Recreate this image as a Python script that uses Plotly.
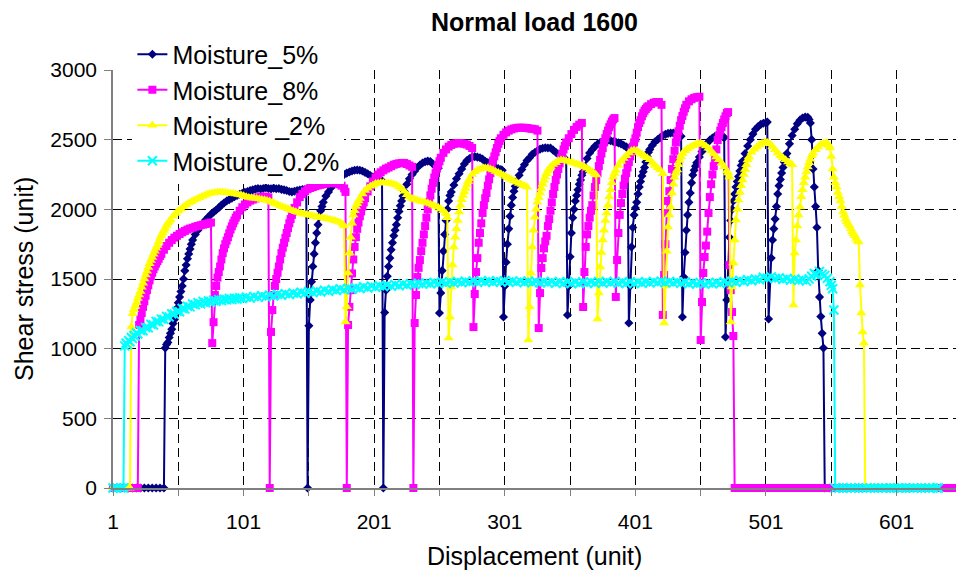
import plotly.graph_objects as go

# ---------------- data (category index, shear stress) ----------------
tick_positions = [1, 51, 101, 151, 201, 251, 301, 351, 401, 451, 501, 551, 601]
tick_labels = ["1", "", "101", "", "201", "", "301", "", "401", "", "501", "", "601"]
y_ticks = [0, 500, 1000, 1500, 2000, 2500, 3000]

moisture_5 = [
    (1, 0), (4, 0), (7, 0), (10, 0), (13, 0), (16, 0), (19, 0), (22, 0), (25, 0), (28, 0), (31, 0), (34, 0), (37, 0), (40, 0),
    (41, 1005), (42, 1030), (43, 1045), (44, 1080), (45, 1110), (46, 1140), (47, 1180), (48, 1210), (49, 1250), (50, 1290),
    (51, 1330), (52, 1370), (53, 1410), (54, 1450), (55, 1500), (56, 1560), (57, 1600), (58, 1645), (59, 1680), (60, 1715),
    (61, 1750), (62, 1780), (64, 1820), (66, 1850), (68, 1875), (70, 1900), (72, 1925), (74, 1945), (76, 1965), (78, 1980),
    (80, 1995), (82, 2012), (84, 2030), (86, 2045), (88, 2060), (90, 2070), (92, 2080), (94, 2090), (96, 2100), (98, 2108),
    (100, 2115), (102, 2122), (104, 2128), (106, 2135), (108, 2140), (110, 2145), (112, 2150), (114, 2146), (116, 2150),
    (118, 2155), (120, 2150), (122, 2147), (124, 2152), (126, 2148), (128, 2150), (130, 2143), (132, 2140), (134, 2135),
    (136, 2128), (138, 2125), (140, 2130), (142, 2135), (144, 2138), (146, 2142), (148, 2140), (149, 2135),
    (150, 0),
    (151, 1165), (152, 1350), (153, 1480), (154, 1590), (155, 1680), (156, 1760), (157, 1830), (158, 1890), (159, 1945),
    (160, 1990), (161, 2020), (162, 2050), (164, 2095), (166, 2125), (168, 2155), (170, 2185), (172, 2205), (174, 2222),
    (176, 2238), (178, 2250), (180, 2260), (182, 2268), (184, 2275), (186, 2280), (188, 2282), (190, 2280), (192, 2275),
    (194, 2265), (196, 2255), (198, 2243), (200, 2232), (202, 2225), (204, 2218), (206, 2210), (207, 2205),
    (208, 0),
    (209, 1260), (210, 1420), (211, 1520), (212, 1590), (213, 1650), (214, 1710), (215, 1760), (216, 1810), (217, 1850),
    (218, 1890), (219, 1940), (220, 1985), (221, 2025), (222, 2060), (223, 2095), (224, 2130), (226, 2180), (228, 2220),
    (230, 2250), (232, 2275), (234, 2300), (236, 2318), (238, 2333), (240, 2342), (242, 2346), (244, 2343), (246, 2325),
    (248, 2308), (250, 2295),
    (251, 1256),
    (252, 1400), (253, 1560), (254, 1700), (255, 1820), (256, 1920), (257, 2000), (258, 2060), (259, 2100), (260, 2125),
    (262, 2175), (264, 2220), (266, 2255), (268, 2290), (270, 2325), (272, 2350), (274, 2365), (276, 2375), (278, 2378),
    (280, 2375), (282, 2370), (284, 2360), (286, 2345), (288, 2335), (290, 2320), (292, 2310), (294, 2300), (296, 2292),
    (298, 2285), (299, 2280),
    (300, 1227),
    (301, 1450), (302, 1620), (303, 1750), (304, 1860), (305, 1950), (306, 2030), (307, 2085), (308, 2130), (309, 2165),
    (310, 2200), (312, 2245), (314, 2285), (316, 2320), (318, 2350), (320, 2370), (322, 2395), (324, 2408), (326, 2420),
    (328, 2432), (330, 2438), (332, 2442), (334, 2440), (336, 2440), (338, 2425), (340, 2410), (342, 2395), (344, 2382),
    (346, 2368), (348, 2355),
    (349, 1242),
    (350, 1450), (351, 1660), (352, 1830), (353, 1940), (354, 2000), (355, 2060), (356, 2100), (357, 2140), (358, 2180),
    (359, 2210), (360, 2245), (361, 2270), (362, 2305), (364, 2365), (366, 2405), (368, 2430), (370, 2452), (372, 2468),
    (374, 2480), (376, 2488), (378, 2494), (380, 2497), (382, 2493), (384, 2487), (386, 2482), (388, 2477), (390, 2470),
    (392, 2460), (394, 2448), (395, 2440),
    (396, 1184),
    (397, 1450), (398, 1730), (399, 1870), (400, 1960), (401, 2010), (402, 2050), (403, 2110), (404, 2160), (405, 2200),
    (406, 2240), (407, 2270), (408, 2300), (409, 2340), (410, 2380), (411, 2410), (412, 2430), (414, 2460), (416, 2485),
    (418, 2500), (420, 2515), (422, 2530), (424, 2538), (426, 2545), (428, 2548), (430, 2548), (432, 2547), (434, 2545),
    (436, 2525),
    (437, 1227),
    (438, 1514), (439, 1690), (440, 1850), (441, 1960), (442, 2050), (443, 2117), (444, 2190), (445, 2246), (446, 2280),
    (447, 2310), (448, 2335), (450, 2376), (452, 2415), (454, 2448), (456, 2476), (458, 2497), (460, 2512), (462, 2525),
    (464, 2533), (466, 2530), (468, 2522), (469, 2515),
    (470, 1084),
    (471, 1350), (472, 1600), (473, 1800), (474, 1920), (475, 2000), (476, 2060), (477, 2110), (478, 2160), (479, 2200),
    (480, 2235), (481, 2275), (482, 2315), (483, 2345), (485, 2400), (487, 2455), (489, 2500), (491, 2540), (493, 2575),
    (495, 2595), (497, 2610), (499, 2618), (501, 2622), (502, 2626),
    (503, 1213),
    (504, 1500), (505, 1650), (506, 1780), (507, 1860), (508, 1930), (509, 2020), (510, 2110), (511, 2170), (512, 2215),
    (513, 2260), (514, 2300), (515, 2340), (516, 2370), (517, 2400), (519, 2470), (521, 2530), (523, 2575), (525, 2615),
    (527, 2640), (529, 2655), (531, 2662), (533, 2660), (534, 2645), (535, 2620), (536, 2500), (537, 2290), (538, 2160),
    (539, 2020), (540, 1870), (541, 1560), (542, 1370), (543, 1230), (544, 1110), (545, 1005),
    (546, 0), (550, 0), (554, 0), (558, 0), (562, 0), (566, 0), (570, 0), (574, 0), (578, 0), (582, 0), (586, 0),
    (590, 0), (594, 0), (598, 0), (602, 0), (606, 0), (610, 0), (614, 0), (618, 0), (622, 0), (626, 0), (630, 0),
]

moisture_8 = [
    (1, 0), (4, 0), (7, 0), (10, 0), (13, 0), (16, 0), (19, 0), (20, 0),
    (21, 1170), (22, 1210), (23, 1256), (24, 1300), (25, 1340), (26, 1380), (27, 1420), (28, 1455), (29, 1490), (30, 1520),
    (31, 1545), (32, 1570), (33, 1590), (34, 1610), (35, 1628), (36, 1645), (37, 1665), (38, 1680), (40, 1710), (42, 1737),
    (44, 1760), (46, 1780), (48, 1797), (50, 1810), (52, 1823), (54, 1835), (56, 1845), (58, 1855), (60, 1862), (62, 1868),
    (64, 1875), (66, 1880), (68, 1886), (70, 1890), (72, 1895), (74, 1900), (76, 1905),
    (77, 1040),
    (78, 1190), (79, 1385), (80, 1450), (81, 1510), (82, 1550), (83, 1590), (84, 1640), (85, 1686), (86, 1720), (87, 1750),
    (88, 1775), (89, 1800), (90, 1828), (91, 1855), (92, 1878), (93, 1900), (94, 1920), (95, 1940), (96, 1957), (98, 1990),
    (100, 2015), (102, 2035), (104, 2050), (106, 2062), (108, 2070), (110, 2078), (112, 2085), (114, 2088), (116, 2090),
    (118, 2091), (120, 2085),
    (121, 0),
    (122, 1120), (123, 1277), (124, 1385), (125, 1450), (126, 1500), (127, 1545), (128, 1590), (129, 1640), (130, 1686),
    (131, 1725), (132, 1760), (133, 1795), (134, 1830), (135, 1865), (136, 1900), (137, 1930), (138, 1960), (139, 1985),
    (140, 2010), (142, 2050), (144, 2088), (146, 2110), (148, 2130), (150, 2145), (152, 2153), (154, 2160), (156, 2166),
    (158, 2172), (160, 2176), (162, 2180), (164, 2184), (166, 2188), (168, 2190), (170, 2190), (172, 2186), (174, 2180),
    (176, 2170), (178, 2150), (179, 2125),
    (180, 0),
    (181, 1170), (182, 1300), (183, 1420), (184, 1540), (185, 1640), (186, 1730), (187, 1800), (188, 1860), (189, 1905),
    (190, 1950), (191, 1985), (192, 2020), (193, 2050), (194, 2080), (196, 2128), (198, 2165), (200, 2200), (202, 2228),
    (204, 2250), (206, 2266), (208, 2280), (210, 2292), (212, 2300), (214, 2310), (216, 2320), (218, 2326), (220, 2330),
    (222, 2333), (224, 2333), (226, 2325), (228, 2315), (230, 2305),
    (231, 0),
    (232, 1184), (233, 1385), (234, 1514), (235, 1580), (236, 1636), (237, 1700), (238, 1760), (239, 1820), (240, 1880),
    (241, 1940), (242, 2000), (243, 2050), (244, 2100), (245, 2148), (246, 2190), (247, 2228), (248, 2260), (249, 2292),
    (250, 2320), (251, 2345), (252, 2370), (254, 2405), (256, 2430), (258, 2450), (260, 2462), (262, 2470), (264, 2474),
    (266, 2476), (268, 2474), (270, 2470), (272, 2465), (274, 2455), (276, 2440),
    (277, 1155),
    (278, 1392), (279, 1550), (280, 1650), (281, 1760), (282, 1830), (283, 1900), (284, 1974), (285, 2030), (286, 2080),
    (287, 2117), (288, 2170), (289, 2215), (290, 2260), (291, 2305), (292, 2350), (293, 2380), (294, 2410), (295, 2440),
    (296, 2470), (297, 2490), (298, 2510), (300, 2535), (302, 2552), (304, 2565), (306, 2574), (308, 2580), (310, 2584),
    (312, 2586), (314, 2586), (316, 2585), (318, 2584), (320, 2580), (322, 2578), (324, 2575), (326, 2565),
    (327, 1148),
    (328, 1399), (329, 1579), (330, 1650), (331, 1720), (332, 1770), (333, 1810), (334, 1880), (335, 1930), (336, 1990),
    (337, 2050), (338, 2110), (339, 2160), (340, 2210), (341, 2250), (342, 2290), (343, 2330), (344, 2370), (345, 2400),
    (346, 2430), (347, 2455), (348, 2480), (350, 2510), (352, 2540), (354, 2570), (356, 2592), (358, 2608), (360, 2620),
    (361, 1299),
    (362, 1550), (363, 1730), (364, 1820), (365, 1880), (366, 1940), (367, 1990), (368, 2030), (369, 2100), (370, 2160),
    (371, 2210), (372, 2260), (373, 2310), (374, 2354), (375, 2400), (376, 2440), (377, 2480), (378, 2510), (379, 2540),
    (380, 2565), (381, 2590), (382, 2610), (383, 2630), (384, 2645), (385, 2655),
    (386, 1371),
    (387, 1636), (388, 1830), (389, 1960), (390, 2045), (391, 2110), (392, 2170), (393, 2220), (394, 2260), (395, 2300),
    (396, 2340), (397, 2380), (398, 2415), (399, 2450), (400, 2480), (401, 2510), (402, 2550), (403, 2590), (404, 2620),
    (405, 2640), (406, 2668), (407, 2690), (408, 2708), (409, 2720), (410, 2732), (411, 2740), (413, 2755), (415, 2765),
    (417, 2770), (419, 2770), (421, 2750),
    (422, 1242),
    (423, 1529), (424, 1750), (425, 1974), (426, 2060), (427, 2130), (428, 2210), (429, 2290), (430, 2360), (431, 2420),
    (432, 2480), (433, 2520), (434, 2560), (435, 2600), (436, 2640), (437, 2670), (438, 2700), (439, 2725), (440, 2750),
    (442, 2775), (444, 2790), (446, 2800), (448, 2805), (450, 2808),
    (451, 1062),
    (452, 1335), (453, 1543), (454, 1658), (455, 1740), (456, 1840), (457, 1974), (458, 2088), (459, 2180), (460, 2250),
    (461, 2310), (462, 2354), (463, 2430), (464, 2497), (465, 2530), (466, 2565), (467, 2591), (468, 2620), (469, 2645),
    (470, 2668), (471, 2691), (472, 2698),
    (473, 1600), (474, 1420), (475, 1263), (476, 1091),
    (477, 0), (480, 0), (483, 0), (486, 0), (489, 0), (492, 0), (495, 0), (498, 0), (501, 0), (504, 0), (507, 0),
    (510, 0), (513, 0), (516, 0), (519, 0), (522, 0), (525, 0), (528, 0), (531, 0), (534, 0), (537, 0), (540, 0),
    (543, 0), (546, 0), (549, 0), (552, 0), (555, 0), (558, 0), (561, 0), (564, 0), (567, 0), (570, 0), (573, 0),
    (576, 0), (579, 0), (582, 0), (585, 0), (588, 0), (591, 0), (594, 0), (597, 0), (600, 0), (603, 0), (606, 0),
    (609, 0), (612, 0), (615, 0), (618, 0), (621, 0), (624, 0), (627, 0), (630, 0), (633, 0), (636, 0), (639, 0),
    (642, 0), (645, 0), (646, 0),
]

moisture_2 = [
    (1, 0), (4, 0), (7, 0), (10, 0), (13, 0), (14, 0),
    (15, 1155), (16, 1250), (17, 1280), (18, 1305), (19, 1330), (20, 1360), (21, 1385), (22, 1410), (23, 1440), (24, 1470),
    (25, 1500), (26, 1528), (27, 1555), (28, 1583), (29, 1610), (30, 1633), (31, 1655), (32, 1678), (33, 1700), (34, 1720),
    (35, 1740), (36, 1765), (37, 1790), (38, 1810), (39, 1830), (40, 1848), (41, 1865), (42, 1883), (43, 1900), (44, 1912),
    (45, 1925), (47, 1950), (49, 1970), (51, 1988), (53, 2003), (55, 2018), (57, 2032), (59, 2045), (61, 2055), (63, 2065),
    (65, 2075), (67, 2084), (69, 2092), (71, 2100), (73, 2108), (75, 2113), (77, 2117), (79, 2121), (81, 2123), (83, 2124),
    (85, 2123), (87, 2121), (89, 2119), (91, 2116), (93, 2113), (95, 2110), (97, 2106), (99, 2102), (101, 2097),
    (103, 2090), (105, 2085), (107, 2082), (109, 2079), (111, 2077), (113, 2074), (115, 2071), (117, 2068), (119, 2064),
    (121, 2058), (123, 2050), (125, 2042), (127, 2034), (129, 2026), (131, 2018), (133, 2011), (135, 2004), (137, 1996),
    (139, 1989), (141, 1983), (143, 1977), (145, 1972), (147, 1967), (149, 1963), (151, 1960), (153, 1956), (155, 1951),
    (157, 1946), (159, 1942), (161, 1939), (163, 1936), (165, 1933), (167, 1928), (169, 1923), (171, 1918), (173, 1913),
    (175, 1906), (177, 1893), (178, 1880),
    (179, 1191),
    (180, 1300), (181, 1543), (182, 1686), (183, 1800), (184, 1900), (185, 1960), (186, 1990), (187, 2020), (188, 2040),
    (189, 2060), (190, 2078), (192, 2110), (194, 2135), (196, 2152), (198, 2165), (200, 2175), (202, 2185), (204, 2188),
    (206, 2190), (208, 2191), (210, 2190), (212, 2188), (214, 2185), (216, 2180), (218, 2175), (220, 2162), (222, 2148),
    (224, 2130), (226, 2105), (228, 2088), (230, 2077), (232, 2070), (234, 2065), (236, 2060), (238, 2055), (240, 2050),
    (242, 2045), (244, 2038), (246, 2030), (248, 2023), (250, 2015), (252, 2002), (254, 1990), (256, 1970), (257, 1940),
    (258, 1077),
    (259, 1227), (260, 1443), (261, 1600), (262, 1730), (263, 1800), (264, 1860), (265, 1920), (266, 1980), (267, 2030),
    (268, 2068), (269, 2100), (270, 2125), (271, 2150), (272, 2175), (273, 2200), (274, 2218), (276, 2250), (278, 2270),
    (280, 2282), (282, 2290), (284, 2295), (286, 2297), (288, 2297), (290, 2290), (292, 2282), (294, 2272), (296, 2265),
    (298, 2255), (300, 2245), (302, 2235), (304, 2225), (306, 2215), (308, 2205), (310, 2195), (312, 2185), (314, 2178),
    (316, 2170), (318, 2160),
    (319, 1062),
    (320, 1300), (321, 1543), (322, 1730), (323, 1850), (324, 1945), (325, 2000), (326, 2050), (327, 2085), (328, 2117),
    (329, 2150), (330, 2180), (331, 2207), (332, 2232), (333, 2255), (334, 2275), (335, 2292), (336, 2305), (338, 2322),
    (340, 2335), (342, 2348), (344, 2354), (346, 2352), (348, 2348), (350, 2343), (352, 2338), (354, 2333), (356, 2326),
    (358, 2320), (360, 2314), (362, 2305), (364, 2294), (366, 2282), (368, 2270), (370, 2256), (371, 2246),
    (372, 1213),
    (373, 1400), (374, 1586), (375, 1690), (376, 1780), (377, 1850), (378, 1920), (379, 1974), (380, 2030), (381, 2090),
    (382, 2140), (383, 2190), (384, 2232), (385, 2258), (386, 2280), (388, 2315), (390, 2345), (392, 2365), (394, 2385),
    (396, 2405), (398, 2420), (400, 2425), (402, 2420), (404, 2408), (406, 2395), (408, 2382), (410, 2370), (412, 2355),
    (414, 2335), (416, 2315), (418, 2298), (420, 2282), (422, 2255),
    (423, 1184),
    (424, 1450), (425, 1700), (426, 1873), (427, 1960), (428, 2017), (429, 2117), (430, 2180), (431, 2230), (432, 2260),
    (433, 2282), (434, 2320), (435, 2350), (436, 2378), (437, 2400), (439, 2420), (441, 2435), (443, 2447), (445, 2457),
    (447, 2465), (449, 2472), (451, 2476), (453, 2466), (455, 2455), (457, 2438), (459, 2418), (461, 2398), (463, 2375),
    (465, 2355), (467, 2330), (469, 2305), (471, 2275), (472, 2260), (473, 2232),
    (474, 1191),
    (475, 1443), (476, 1615), (477, 1780), (478, 1923), (479, 2000), (480, 2067), (481, 2120), (482, 2170), (483, 2210),
    (484, 2250), (485, 2285), (486, 2320), (487, 2354), (488, 2375), (490, 2410), (492, 2432), (494, 2447), (496, 2463),
    (498, 2475), (500, 2482), (502, 2480), (504, 2470), (506, 2450), (508, 2428), (510, 2405), (512, 2385), (514, 2370),
    (516, 2355), (518, 2340), (520, 2328), (521, 2320),
    (522, 1313),
    (523, 1686), (524, 1780), (525, 1880), (526, 1960), (527, 2017), (528, 2090), (529, 2140), (530, 2190), (531, 2230),
    (532, 2268), (533, 2304), (534, 2335), (535, 2360), (536, 2385), (537, 2404), (539, 2428), (541, 2448), (543, 2465),
    (545, 2472), (547, 2476), (548, 2476), (549, 2460), (550, 2440), (551, 2380), (552, 2290), (553, 2230), (554, 2190),
    (555, 2160), (556, 2120), (557, 2090), (558, 2060), (559, 2020), (560, 1980), (561, 1955), (562, 1930), (563, 1910),
    (564, 1895), (565, 1880), (566, 1860), (567, 1840), (568, 1825), (569, 1810), (570, 1790), (571, 1775), (572, 1766),
    (573, 1457), (574, 1256), (575, 1120), (576, 1040),
    (577, 0), (580, 0), (583, 0), (586, 0), (589, 0), (592, 0), (595, 0), (598, 0), (601, 0), (604, 0), (607, 0),
    (610, 0), (613, 0), (616, 0), (619, 0), (622, 0), (625, 0), (628, 0), (631, 0), (632, 0),
]

moisture_02 = [
    (1, 0), (4, 0), (7, 0), (9, 0),
    (10, 1020), (11, 1040), (12, 1030), (13, 1058), (14, 1050), (15, 1080), (16, 1072), (17, 1095), (18, 1090),
    (19, 1112), (20, 1105), (22, 1130), (24, 1128), (26, 1152), (28, 1150), (30, 1175), (32, 1170), (34, 1195),
    (36, 1192), (38, 1212), (40, 1210), (42, 1232), (44, 1228), (46, 1250), (48, 1248), (50, 1268), (52, 1265),
    (54, 1288), (56, 1285), (58, 1305), (60, 1300), (62, 1320), (64, 1315), (66, 1330), (68, 1322), (70, 1338),
    (72, 1330), (74, 1342), (76, 1335), (78, 1348), (80, 1340), (82, 1352), (84, 1345), (86, 1355), (88, 1350),
    (90, 1360), (92, 1352), (94, 1362), (96, 1356), (98, 1366), (100, 1360), (103, 1370), (106, 1364), (109, 1375),
    (112, 1368), (115, 1380), (118, 1372), (121, 1384), (124, 1378), (127, 1390), (130, 1383), (133, 1395), (136, 1388),
    (139, 1400), (142, 1393), (145, 1405), (148, 1398), (151, 1410), (154, 1402), (157, 1414), (160, 1407), (163, 1420),
    (166, 1412), (169, 1425), (172, 1418), (175, 1430), (178, 1422), (181, 1434), (184, 1427), (187, 1438), (190, 1432),
    (193, 1444), (196, 1436), (199, 1448), (202, 1440), (205, 1452), (208, 1445), (211, 1456), (214, 1449), (217, 1460),
    (220, 1452), (223, 1463), (226, 1456), (229, 1467), (232, 1460), (235, 1470), (238, 1463), (241, 1472), (244, 1466),
    (247, 1476), (250, 1468), (253, 1478), (256, 1470), (259, 1480), (262, 1472), (265, 1482), (268, 1474), (271, 1484),
    (274, 1476), (277, 1486), (280, 1477), (283, 1487), (286, 1478), (289, 1486), (292, 1477), (295, 1487), (298, 1479),
    (301, 1488), (304, 1478), (307, 1486), (310, 1476), (313, 1485), (316, 1475), (319, 1484), (322, 1474), (325, 1483),
    (328, 1473), (331, 1482), (334, 1472), (337, 1481), (340, 1470), (343, 1480), (346, 1469), (349, 1479), (352, 1468),
    (355, 1478), (358, 1468), (361, 1479), (364, 1469), (367, 1480), (370, 1470), (373, 1481), (376, 1471), (379, 1482),
    (382, 1472), (385, 1481), (388, 1470), (391, 1480), (394, 1468), (397, 1478), (400, 1467), (403, 1478), (406, 1469),
    (409, 1480), (412, 1472), (415, 1483), (418, 1474), (421, 1484), (424, 1474), (427, 1482), (430, 1472), (433, 1480),
    (436, 1470), (439, 1478), (442, 1466), (445, 1475), (448, 1464), (451, 1472), (454, 1463), (457, 1473), (460, 1465),
    (463, 1476), (466, 1468), (469, 1480), (472, 1472), (475, 1485), (478, 1477), (481, 1490), (484, 1482), (487, 1495),
    (490, 1487), (493, 1500), (496, 1495), (499, 1512), (502, 1505), (505, 1515), (508, 1503), (511, 1508), (514, 1497),
    (517, 1503), (520, 1492), (523, 1500), (526, 1490), (529, 1495), (532, 1485), (534, 1500), (536, 1520), (538, 1540),
    (540, 1530), (542, 1555), (544, 1535), (546, 1525), (548, 1505), (550, 1480), (551, 1455), (552, 1430), (553, 1277),
    (554, 0), (557, 0), (560, 0), (563, 0), (566, 0), (569, 0), (572, 0), (575, 0), (578, 0), (581, 0), (584, 0),
    (587, 0), (590, 0), (593, 0), (596, 0), (599, 0), (602, 0), (605, 0), (608, 0), (611, 0), (614, 0), (617, 0),
    (620, 0), (623, 0), (626, 0), (629, 0), (632, 0), (633, 0),
]

# ---------------- styling ----------------
FONT = "Liberation Sans, Arial, sans-serif"
styles = [
    ("Moisture_5%", moisture_5, "#000080", "diamond", 7),
    ("Moisture_8%", moisture_8, "#FF00FF", "square", 8),
    ("Moisture _2%", moisture_2, "#FFFF00", "triangle-up", 9),
    ("Moisture_0.2%", moisture_02, "#00FFFF", "x-thin", 9),
]

fig = go.Figure()
for name, pts, color, symbol, size in styles:
    xs = [p[0] for p in pts]
    ys = [p[1] for p in pts]
    marker = dict(symbol=symbol, size=size, color=color)
    if symbol == "x-thin":
        marker["line"] = dict(color=color, width=2)
    fig.add_trace(go.Scatter(
        x=xs, y=ys, name=name, mode="lines+markers",
        line=dict(color=color, width=2),
        marker=marker, cliponaxis=False,
    ))

axis_common = dict(
    ticks="outside", tickcolor="#808080", tickwidth=1,
    showline=True, linecolor="#808080", linewidth=1.5,
    showgrid=True, gridcolor="black", gridwidth=1, griddash="9px,5px", zeroline=False,
    tickfont=dict(size=21, family=FONT, color="black"), automargin=False,
)

fig.update_layout(
    width=956, height=576,
    margin=dict(l=113, r=0, t=70, b=88, autoexpand=False),
    paper_bgcolor="white", plot_bgcolor="white",
    font=dict(family=FONT, color="black"),
    title=dict(text="<b>Normal load 1600</b>", x=0.5, xref="paper", xanchor="center",
               y=1 - 22 / 576, yanchor="middle", font=dict(size=25, family=FONT, color="black")),
    showlegend=True,
    legend=dict(x=0.023, y=1.092, xanchor="left", yanchor="top", bgcolor="white",
                borderwidth=0, font=dict(size=25, family=FONT, color="black"), tracegroupgap=0),
    xaxis=dict(range=[1, 646.5], tickmode="array", tickvals=tick_positions, ticktext=tick_labels,
               ticklen=6, ticklabelstandoff=8, **axis_common),
    yaxis=dict(range=[0, 3000], tickmode="array", tickvals=y_ticks,
               ticklen=7, ticklabelstandoff=3, **axis_common),
    annotations=[
        dict(text="Displacement (unit)", xref="paper", yref="paper", x=0.5, y=-0.1627,
             xanchor="center", yanchor="middle", showarrow=False,
             font=dict(size=25, family=FONT, color="black")),
        dict(text="Shear stress (unit)", xref="paper", yref="paper", x=-0.1056, y=0.5,
             xanchor="center", yanchor="middle", textangle=-90, showarrow=False,
             font=dict(size=25, family=FONT, color="black")),
    ],
)

fig.write_html("out.html", config={"displayModeBar": False},
               post_script="document.body.style.margin='0px';")
